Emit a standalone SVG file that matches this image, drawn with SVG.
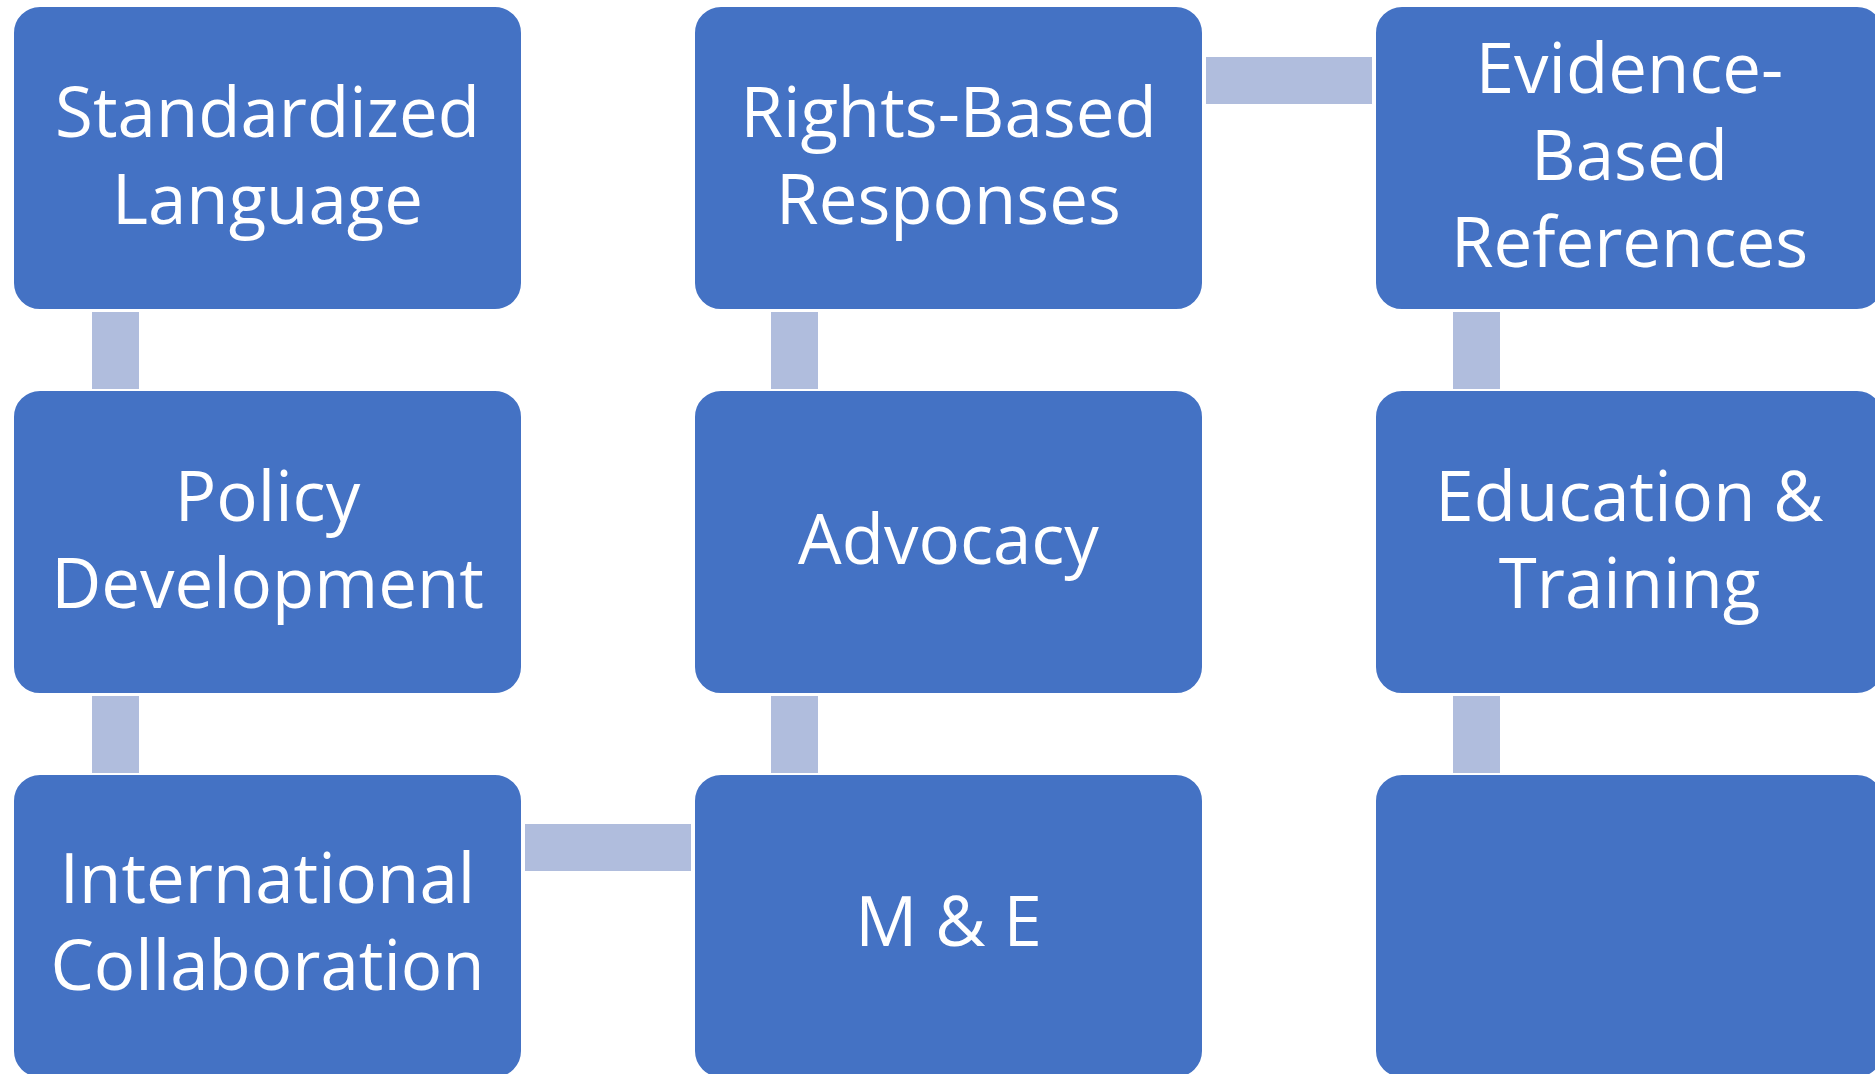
<svg xmlns="http://www.w3.org/2000/svg" width="1875" height="1074" viewBox="0 0 1875 1074">
<style>
.box{fill:#4472C4;stroke:#FFFFFF;stroke-width:2}
.con{fill:#B0BDDD}
.t{font-family:"Open Sans","Noto Sans",sans-serif;font-size:69px;fill:#FFFFFF;text-anchor:middle}
</style>
<rect width="1875" height="1074" fill="#FFFFFF"/>
<g id="connectors">
<rect class="con" x="92" y="312" width="47" height="77"/>
<rect class="con" x="92" y="696" width="47" height="77"/>
<rect class="con" x="771" y="312" width="47" height="77"/>
<rect class="con" x="771" y="696" width="47" height="77"/>
<rect class="con" x="1453" y="312" width="47" height="77"/>
<rect class="con" x="1453" y="696" width="47" height="77"/>
<rect class="con" x="1206" y="57" width="166" height="47"/>
<rect class="con" x="525" y="824" width="166" height="47"/>
</g>
<g id="n1"><rect class="box" x="13" y="6" width="509" height="304" rx="27"/><text class="t" x="267.5"><tspan x="267.5" y="136.5">Standardized</tspan><tspan x="267.5" y="223.5">Language</tspan></text></g>
<g id="n2"><rect class="box" x="694" y="6" width="509" height="304" rx="27"/><text class="t"><tspan x="948.5" y="136.5">Rights-Based</tspan><tspan x="948.5" y="223.5">Responses</tspan></text></g>
<g id="n3"><rect class="box" x="1375" y="6" width="509" height="304" rx="27"/><text class="t"><tspan x="1629.5" y="93">Evidence-</tspan><tspan x="1629.5" y="180">Based</tspan><tspan x="1629.5" y="267">References</tspan></text></g>
<g id="n4"><rect class="box" x="13" y="390" width="509" height="304" rx="27"/><text class="t"><tspan x="267.5" y="520.5">Policy</tspan><tspan x="267.5" y="607.5">Development</tspan></text></g>
<g id="n5"><rect class="box" x="694" y="390" width="509" height="304" rx="27"/><text class="t"><tspan x="948.5" y="564">Advocacy</tspan></text></g>
<g id="n6"><rect class="box" x="1375" y="390" width="509" height="304" rx="27"/><text class="t"><tspan x="1629.5" y="520.5">Education &amp;</tspan><tspan x="1629.5" y="607.5">Training</tspan></text></g>
<g id="n7"><rect class="box" x="13" y="774" width="509" height="304" rx="27"/><text class="t"><tspan x="267.5" y="902.5">International</tspan><tspan x="267.5" y="989.5">Collaboration</tspan></text></g>
<g id="n8"><rect class="box" x="694" y="774" width="509" height="304" rx="27"/><text class="t"><tspan x="948.5" y="946">M &amp; E</tspan></text></g>
<g id="n9"><rect class="box" x="1375" y="774" width="509" height="304" rx="27"/></g>
</svg>
